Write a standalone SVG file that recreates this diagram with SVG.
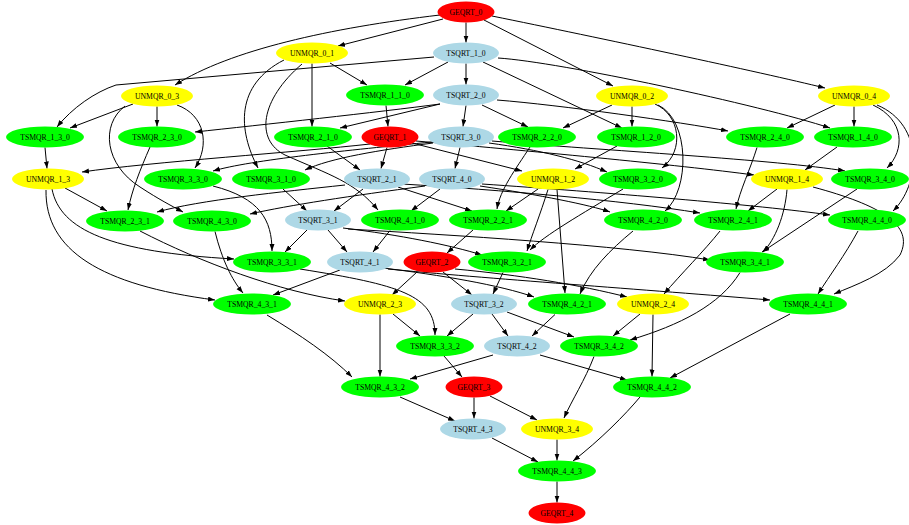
<svg xmlns="http://www.w3.org/2000/svg" width="909" height="525" viewBox="0 0 909 525">
<style>
.e path{fill:none;stroke:#000;stroke-width:1;marker-end:url(#ah)}
text{font-family:"Liberation Serif","Times New Roman",serif;font-size:7.7px;text-anchor:middle;fill:#000}
.r{fill:#ff0000}.y{fill:#ffff00}.b{fill:#add8e6}.g{fill:#00ff00}
</style>
<defs>
<marker id="ah" markerUnits="userSpaceOnUse" markerWidth="8" markerHeight="6" refX="7" refY="2.5" orient="auto"><path d="M0,0 L7,2.5 L0,5 z" fill="#000"/></marker>
</defs>
<rect width="909" height="525" fill="#fff"/>
<g id="edges" class="e">
<path d="M440,15 C330,28 230,50 175,85"/>
<path d="M443,19 L338,46"/>
<path d="M466,22.5 L466,42.5"/>
<path d="M484,20 L613,86"/>
<path d="M492,16 C600,38 760,72 825,88"/>
<path d="M466,63.5 L466,84.5"/>
<path d="M448,62 L405,85"/>
<path d="M483,62 L622,128"/>
<path d="M434,57 L116,85 C95,92 72,108 57,127"/>
<path d="M498,58 C560,62 760,105 830,128"/>
<path d="M330,63 L367,85"/>
<path d="M312,63.5 L312,126.5"/>
<path d="M284,60 C235,85 238,130 258,168"/>
<path d="M302,64 C260,100 255,140 285,155 C330,175 355,182 378,210"/>
<path d="M466,105.5 L463,126.5"/>
<path d="M440,104 L340,128"/>
<path d="M482,105 L528,127"/>
<path d="M440,104 C380,112 260,125 195,132"/>
<path d="M497,100 C560,105 680,122 728,131"/>
<path d="M133,104 L70,128"/>
<path d="M157,106.5 L157,126.5"/>
<path d="M177,105 C205,115 210,145 195,168"/>
<path d="M125,106 C100,125 105,165 140,187 C160,200 170,205 183,212"/>
<path d="M632,106.5 L632,126.5"/>
<path d="M612,105 L563,128"/>
<path d="M655,104 C680,115 685,150 662,168"/>
<path d="M658,105 C690,120 690,190 665,211"/>
<path d="M854,106.5 L854,126.5"/>
<path d="M835,105 L787,128"/>
<path d="M873,105 C905,120 905,150 887,168"/>
<path d="M877,105 C925,125 920,185 893,211"/>
<path d="M460,147.5 L455,168.5"/>
<path d="M433,143 C380,150 330,158 305,170"/>
<path d="M432,142 C350,150 250,160 213,171"/>
<path d="M370,144 C300,152 150,162 82,172"/>
<path d="M489,143 C540,150 580,160 607,172"/>
<path d="M492,141 C600,150 780,160 845,171"/>
<path d="M412,143 L522,171"/>
<path d="M416,141 C520,150 680,165 754,175"/>
<path d="M387,147.5 L381,168.5"/>
<path d="M440,189 L411,211"/>
<path d="M480,186 C540,195 590,205 610,212"/>
<path d="M425,186 C350,196 290,205 250,214"/>
<path d="M482,184 C600,192 760,205 830,215"/>
<path d="M65,188 L107,211"/>
<path d="M52,189 C60,230 110,252 234,259"/>
<path d="M46,190 C45,250 100,285 215,300"/>
<path d="M45,147.5 L47,168.5"/>
<path d="M150,147 C140,170 132,190 128,210"/>
<path d="M213,186 C260,198 272,220 272,251"/>
<path d="M215,231.5 C222,260 232,280 243,293"/>
<path d="M283,189 L307,211"/>
<path d="M327,146 L360,170"/>
<path d="M390,230.5 L373,252"/>
<path d="M386,105.5 L388,126.5"/>
<path d="M530,147 C515,170 500,190 497,209"/>
<path d="M617,146 L575,169"/>
<path d="M623,189 C580,215 545,235 530,250"/>
<path d="M633,231 C610,250 590,270 580,294"/>
<path d="M757,147.5 C750,170 740,190 736,209"/>
<path d="M837,147 L805,170"/>
<path d="M857,189 L762,252"/>
<path d="M858,231 C845,255 830,275 818,294"/>
<path d="M363,189 L334,211"/>
<path d="M398,187 L472,211"/>
<path d="M345,185 C280,192 200,200 157,212"/>
<path d="M402,184 C500,190 620,200 700,213"/>
<path d="M538,189 L506,211"/>
<path d="M548,189.5 C540,215 532,235 527,251"/>
<path d="M557,189.5 L565,293"/>
<path d="M777,189 L748,211"/>
<path d="M787,189.5 C785,215 775,240 763,252"/>
<path d="M813,187 C880,205 915,225 900,255 C885,275 855,285 834,294"/>
<path d="M328,230 L347,252"/>
<path d="M307,230 L285,252"/>
<path d="M343,228 C400,235 450,245 482,255"/>
<path d="M348,229 C450,235 620,245 710,260"/>
<path d="M383,268 C440,275 500,285 534,297"/>
<path d="M340,270 L273,295"/>
<path d="M388,269 C480,278 650,290 770,300"/>
<path d="M417,272 L392,295"/>
<path d="M443,272 L472,295"/>
<path d="M455,269 C520,275 580,285 627,297"/>
<path d="M473,230 L447,253"/>
<path d="M140,231 C200,262 280,292 345,301"/>
<path d="M720,231 C705,250 680,275 664,294"/>
<path d="M300,269 C400,285 435,295 435,335"/>
<path d="M503,272.5 L493,294"/>
<path d="M740,272.5 C720,305 680,325 630,340"/>
<path d="M267,315 C300,335 330,355 352,377"/>
<path d="M555,314.5 L532,336"/>
<path d="M790,314 L670,378"/>
<path d="M393,314 L420,336"/>
<path d="M380,314.5 L380,376.5"/>
<path d="M473,314 L447,336"/>
<path d="M492,314 L508,336"/>
<path d="M507,312 L574,337"/>
<path d="M640,314 L613,336"/>
<path d="M653,314.5 L652,376.5"/>
<path d="M493,355 L410,379"/>
<path d="M540,355 L627,380"/>
<path d="M444,356 L462,377"/>
<path d="M594,356.5 C585,380 572,400 564,418"/>
<path d="M400,397 L455,421"/>
<path d="M640,397 C625,415 600,440 573,461"/>
<path d="M474,397.5 L474,418.5"/>
<path d="M490,396 L537,420"/>
<path d="M492,438 L538,462"/>
<path d="M557,439.5 L557,460.5"/>
<path d="M557,481.5 L557,502.5"/>
</g>
<g id="GEQRT_0"><ellipse class="r" cx="466" cy="12" rx="28.5" ry="10.5"/><text x="466" y="14.7">GEQRT_0</text></g>
<g id="UNMQR_0_1"><ellipse class="y" cx="312" cy="53" rx="36" ry="10.5"/><text x="312" y="55.7">UNMQR_0_1</text></g>
<g id="TSQRT_1_0"><ellipse class="b" cx="466" cy="53" rx="33" ry="10.5"/><text x="466" y="55.7">TSQRT_1_0</text></g>
<g id="UNMQR_0_3"><ellipse class="y" cx="157" cy="96" rx="36" ry="10.5"/><text x="157" y="98.7">UNMQR_0_3</text></g>
<g id="TSMQR_1_1_0"><ellipse class="g" cx="385" cy="95" rx="39" ry="10.5"/><text x="385" y="97.7">TSMQR_1_1_0</text></g>
<g id="TSQRT_2_0"><ellipse class="b" cx="466" cy="95" rx="33" ry="10.5"/><text x="466" y="97.7">TSQRT_2_0</text></g>
<g id="UNMQR_0_2"><ellipse class="y" cx="632" cy="96" rx="36" ry="10.5"/><text x="632" y="98.7">UNMQR_0_2</text></g>
<g id="UNMQR_0_4"><ellipse class="y" cx="854" cy="96" rx="36" ry="10.5"/><text x="854" y="98.7">UNMQR_0_4</text></g>
<g id="TSMQR_1_3_0"><ellipse class="g" cx="45" cy="137" rx="39" ry="10.5"/><text x="45" y="139.7">TSMQR_1_3_0</text></g>
<g id="TSMQR_2_3_0"><ellipse class="g" cx="157" cy="137" rx="39" ry="10.5"/><text x="157" y="139.7">TSMQR_2_3_0</text></g>
<g id="TSMQR_2_1_0"><ellipse class="g" cx="313" cy="137" rx="39" ry="10.5"/><text x="313" y="139.7">TSMQR_2_1_0</text></g>
<g id="GEQRT_1"><ellipse class="r" cx="390" cy="137" rx="28.5" ry="10.5"/><text x="390" y="139.7">GEQRT_1</text></g>
<g id="TSQRT_3_0"><ellipse class="b" cx="461" cy="137" rx="33" ry="10.5"/><text x="461" y="139.7">TSQRT_3_0</text></g>
<g id="TSMQR_2_2_0"><ellipse class="g" cx="537" cy="137" rx="39" ry="10.5"/><text x="537" y="139.7">TSMQR_2_2_0</text></g>
<g id="TSMQR_1_2_0"><ellipse class="g" cx="636" cy="137" rx="39" ry="10.5"/><text x="636" y="139.7">TSMQR_1_2_0</text></g>
<g id="TSMQR_2_4_0"><ellipse class="g" cx="765" cy="137" rx="39" ry="10.5"/><text x="765" y="139.7">TSMQR_2_4_0</text></g>
<g id="TSMQR_1_4_0"><ellipse class="g" cx="853" cy="137" rx="39" ry="10.5"/><text x="853" y="139.7">TSMQR_1_4_0</text></g>
<g id="UNMQR_1_3"><ellipse class="y" cx="48" cy="179" rx="36" ry="10.5"/><text x="48" y="181.7">UNMQR_1_3</text></g>
<g id="TSMQR_3_3_0"><ellipse class="g" cx="183" cy="179" rx="39" ry="10.5"/><text x="183" y="181.7">TSMQR_3_3_0</text></g>
<g id="TSMQR_3_1_0"><ellipse class="g" cx="271" cy="179" rx="39" ry="10.5"/><text x="271" y="181.7">TSMQR_3_1_0</text></g>
<g id="TSQRT_2_1"><ellipse class="b" cx="377" cy="179" rx="33" ry="10.5"/><text x="377" y="181.7">TSQRT_2_1</text></g>
<g id="TSQRT_4_0"><ellipse class="b" cx="452" cy="179" rx="33" ry="10.5"/><text x="452" y="181.7">TSQRT_4_0</text></g>
<g id="UNMQR_1_2"><ellipse class="y" cx="553" cy="179" rx="36" ry="10.5"/><text x="553" y="181.7">UNMQR_1_2</text></g>
<g id="TSMQR_3_2_0"><ellipse class="g" cx="638" cy="179" rx="39" ry="10.5"/><text x="638" y="181.7">TSMQR_3_2_0</text></g>
<g id="UNMQR_1_4"><ellipse class="y" cx="787" cy="179" rx="36" ry="10.5"/><text x="787" y="181.7">UNMQR_1_4</text></g>
<g id="TSMQR_3_4_0"><ellipse class="g" cx="870" cy="179" rx="39" ry="10.5"/><text x="870" y="181.7">TSMQR_3_4_0</text></g>
<g id="TSMQR_2_3_1"><ellipse class="g" cx="125" cy="221" rx="39" ry="10.5"/><text x="125" y="223.7">TSMQR_2_3_1</text></g>
<g id="TSMQR_4_3_0"><ellipse class="g" cx="212" cy="221" rx="39" ry="10.5"/><text x="212" y="223.7">TSMQR_4_3_0</text></g>
<g id="TSQRT_3_1"><ellipse class="b" cx="318" cy="220" rx="33" ry="10.5"/><text x="318" y="222.7">TSQRT_3_1</text></g>
<g id="TSMQR_4_1_0"><ellipse class="g" cx="400" cy="220" rx="39" ry="10.5"/><text x="400" y="222.7">TSMQR_4_1_0</text></g>
<g id="TSMQR_2_2_1"><ellipse class="g" cx="488" cy="220" rx="39" ry="10.5"/><text x="488" y="222.7">TSMQR_2_2_1</text></g>
<g id="TSMQR_4_2_0"><ellipse class="g" cx="643" cy="220" rx="39" ry="10.5"/><text x="643" y="222.7">TSMQR_4_2_0</text></g>
<g id="TSMQR_2_4_1"><ellipse class="g" cx="733" cy="220" rx="39" ry="10.5"/><text x="733" y="222.7">TSMQR_2_4_1</text></g>
<g id="TSMQR_4_4_0"><ellipse class="g" cx="867" cy="220" rx="39" ry="10.5"/><text x="867" y="222.7">TSMQR_4_4_0</text></g>
<g id="TSMQR_3_3_1"><ellipse class="g" cx="272" cy="262" rx="39" ry="10.5"/><text x="272" y="264.7">TSMQR_3_3_1</text></g>
<g id="TSQRT_4_1"><ellipse class="b" cx="360" cy="262" rx="33" ry="10.5"/><text x="360" y="264.7">TSQRT_4_1</text></g>
<g id="GEQRT_2"><ellipse class="r" cx="432" cy="262" rx="28.5" ry="10.5"/><text x="432" y="264.7">GEQRT_2</text></g>
<g id="TSMQR_3_2_1"><ellipse class="g" cx="507" cy="262" rx="39" ry="10.5"/><text x="507" y="264.7">TSMQR_3_2_1</text></g>
<g id="TSMQR_3_4_1"><ellipse class="g" cx="745" cy="262" rx="39" ry="10.5"/><text x="745" y="264.7">TSMQR_3_4_1</text></g>
<g id="TSMQR_4_3_1"><ellipse class="g" cx="252" cy="304" rx="39" ry="10.5"/><text x="252" y="306.7">TSMQR_4_3_1</text></g>
<g id="UNMQR_2_3"><ellipse class="y" cx="380" cy="304" rx="36" ry="10.5"/><text x="380" y="306.7">UNMQR_2_3</text></g>
<g id="TSQRT_3_2"><ellipse class="b" cx="484" cy="304" rx="33" ry="10.5"/><text x="484" y="306.7">TSQRT_3_2</text></g>
<g id="TSMQR_4_2_1"><ellipse class="g" cx="567" cy="304" rx="39" ry="10.5"/><text x="567" y="306.7">TSMQR_4_2_1</text></g>
<g id="UNMQR_2_4"><ellipse class="y" cx="653" cy="304" rx="36" ry="10.5"/><text x="653" y="306.7">UNMQR_2_4</text></g>
<g id="TSMQR_4_4_1"><ellipse class="g" cx="808" cy="304" rx="39" ry="10.5"/><text x="808" y="306.7">TSMQR_4_4_1</text></g>
<g id="TSMQR_3_3_2"><ellipse class="g" cx="435" cy="346" rx="39" ry="10.5"/><text x="435" y="348.7">TSMQR_3_3_2</text></g>
<g id="TSQRT_4_2"><ellipse class="b" cx="517" cy="346" rx="33" ry="10.5"/><text x="517" y="348.7">TSQRT_4_2</text></g>
<g id="TSMQR_3_4_2"><ellipse class="g" cx="599" cy="346" rx="39" ry="10.5"/><text x="599" y="348.7">TSMQR_3_4_2</text></g>
<g id="TSMQR_4_3_2"><ellipse class="g" cx="380" cy="387" rx="39" ry="10.5"/><text x="380" y="389.7">TSMQR_4_3_2</text></g>
<g id="GEQRT_3"><ellipse class="r" cx="474" cy="387" rx="28.5" ry="10.5"/><text x="474" y="389.7">GEQRT_3</text></g>
<g id="TSMQR_4_4_2"><ellipse class="g" cx="652" cy="387" rx="39" ry="10.5"/><text x="652" y="389.7">TSMQR_4_4_2</text></g>
<g id="TSQRT_4_3"><ellipse class="b" cx="473" cy="429" rx="33" ry="10.5"/><text x="473" y="431.7">TSQRT_4_3</text></g>
<g id="UNMQR_3_4"><ellipse class="y" cx="557" cy="429" rx="36" ry="10.5"/><text x="557" y="431.7">UNMQR_3_4</text></g>
<g id="TSMQR_4_4_3"><ellipse class="g" cx="557" cy="471" rx="39" ry="10.5"/><text x="557" y="473.7">TSMQR_4_4_3</text></g>
<g id="GEQRT_4"><ellipse class="r" cx="557" cy="513" rx="28.5" ry="10.5"/><text x="557" y="515.7">GEQRT_4</text></g>
</svg>
